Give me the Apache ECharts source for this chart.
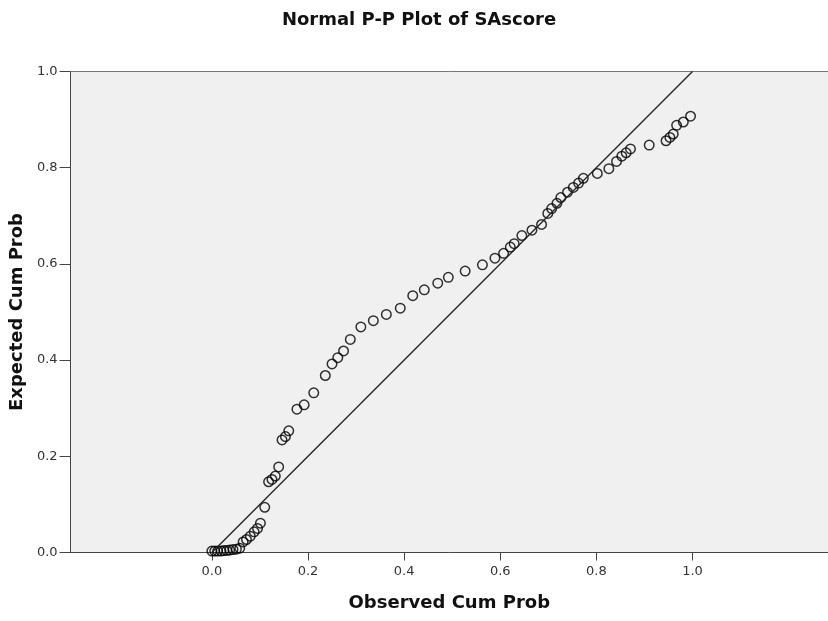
<!DOCTYPE html>
<html>
<head>
<meta charset="utf-8">
<script src="https://cdn.jsdelivr.net/npm/echarts@6/dist/echarts.min.js"></script>
<style>html,body{margin:0;padding:0;background:#fff}#chart{width:828px;height:621px}</style>
</head>
<body>
<div id="chart"></div>
<script>
const chartTitle = "Normal P-P Plot of SAscore";
const xAxisName = "Observed Cum Prob";
const yAxisName = "Expected Cum Prob";
const tickValues = [0, 0.2, 0.4, 0.6, 0.8, 1.0];
const observedCumProb = [
  0.000, 0.006, 0.012, 0.019, 0.025, 0.031, 0.037, 0.044, 0.051, 0.058,
  0.065, 0.072, 0.080, 0.088, 0.095, 0.101, 0.110, 0.118, 0.125, 0.132,
  0.139, 0.146, 0.153, 0.160, 0.177, 0.192, 0.212, 0.236, 0.250, 0.262,
  0.274, 0.288, 0.310, 0.336, 0.363, 0.392, 0.418, 0.442, 0.470, 0.492,
  0.527, 0.563, 0.589, 0.607, 0.621, 0.629, 0.645, 0.666, 0.686, 0.699,
  0.707, 0.718, 0.726, 0.740, 0.752, 0.763, 0.773, 0.802, 0.826, 0.842,
  0.853, 0.862, 0.871, 0.910, 0.945, 0.953, 0.960, 0.967, 0.981, 0.996
];
const expectedCumProb = [
  0.003, 0.003, 0.003, 0.003, 0.004, 0.004, 0.005, 0.006, 0.007, 0.009,
  0.022, 0.027, 0.034, 0.043, 0.050, 0.061, 0.094, 0.147, 0.152, 0.159,
  0.178, 0.234, 0.241, 0.253, 0.298, 0.307, 0.332, 0.368, 0.392, 0.405,
  0.419, 0.443, 0.469, 0.482, 0.495, 0.508, 0.534, 0.546, 0.560, 0.572,
  0.585, 0.598, 0.612, 0.622, 0.635, 0.642, 0.659, 0.670, 0.682, 0.705,
  0.715, 0.726, 0.738, 0.749, 0.759, 0.768, 0.778, 0.788, 0.798, 0.813,
  0.824, 0.831, 0.839, 0.847, 0.856, 0.863, 0.870, 0.888, 0.895, 0.907
];
const refLine = [[0, 0], [1, 1]];

const points = observedCumProb.map((x, i) => [x, expectedCumProb[i]]);
const chart = echarts.init(document.getElementById('chart'), null, {renderer: 'canvas'});
const font = '"DejaVu Sans", Arial, sans-serif';
chart.setOption({
  animation: false,
  backgroundColor: '#ffffff',
  title: {
    text: chartTitle, left: 414, top: 6, textAlign: 'center',
    textStyle: {fontFamily: font, fontSize: 18, fontWeight: 'bold', color: '#111'}
  },
  grid: {
    left: 70, top: 71.5, right: 0, bottom: 68.5,
    show: true, backgroundColor: '#f0f0f0', borderWidth: 0
  },
  xAxis: [{
    type: 'value', min: -0.294, max: 1.282,
    name: xAxisName, nameLocation: 'middle', nameGap: 42,
    nameTextStyle: {fontFamily: font, fontSize: 18, fontWeight: 'bold', color: '#111'},
    axisLine: {show: true, onZero: false, lineStyle: {color: '#444', width: 1}},
    axisTick: {show: true, customValues: tickValues, length: 8, lineStyle: {color: '#444'}},
    axisLabel: {show: true, customValues: tickValues, formatter: v => v.toFixed(1), fontFamily: font, fontSize: 13, color: '#333', margin: 13},
    splitLine: {show: false}
  }, {
    type: 'value', position: 'top', min: -0.294, max: 1.282,
    axisLine: {show: true, onZero: false, lineStyle: {color: '#777', width: 1}},
    axisTick: {show: false}, axisLabel: {show: false}, splitLine: {show: false}
  }],
  yAxis: {
    type: 'value', min: 0, max: 1, interval: 0.2,
    name: yAxisName, nameLocation: 'middle', nameGap: 38,
    nameTextStyle: {fontFamily: font, fontSize: 18, fontWeight: 'bold', color: '#111'},
    axisLine: {show: true, onZero: false, lineStyle: {color: '#444', width: 1}},
    axisTick: {show: true, length: 11, lineStyle: {color: '#444'}},
    axisLabel: {formatter: v => v.toFixed(1), fontFamily: font, fontSize: 13, color: '#333', margin: 13},
    splitLine: {show: false}
  },
  series: [{
    type: 'line', data: refLine, symbol: 'none', silent: true,
    lineStyle: {color: '#222', width: 1.3}
  }, {
    type: 'scatter', data: points, symbol: 'circle', symbolSize: 9.5,
    itemStyle: {color: 'rgba(0,0,0,0)', borderColor: '#000', borderWidth: 1.5}
  }]
});
</script>
</body>
</html>
